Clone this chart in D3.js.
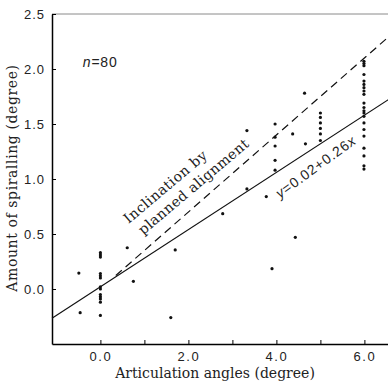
<!DOCTYPE html>
<html>
<head>
<meta charset="utf-8">
<script src="https://cdn.jsdelivr.net/npm/d3@7"></script>
<style>
  body { margin: 0; background: #fff; }
  svg { display: block; }
</style>
</head>
<body>
<div id="wrapper"></div>
<script>
// scattered points (articulation angle, spiralling)
const looseX = [-0.49, -0.46, 0.61, 0.75, 1.70, 1.60, 2.78, 3.33, 3.33, 3.77, 3.90, 4.37, 4.43, 4.64, 4.66]
const looseY = [0.145, -0.215, 0.375, 0.07, 0.355, -0.26, 0.685, 1.44, 0.91, 0.84, 0.185, 1.41, 0.47, 1.78, 1.32]

// stacked columns of points
const col0X = 0.0
const col0Y = [0.33, 0.31, 0.29, 0.14, 0.12, 0.10, 0.02, 0.0, -0.05, -0.07, -0.09, -0.12, -0.24]
const col4X = 3.97
const col4Y = [1.50, 1.38, 1.30, 1.17, 1.08]
const col5X = 5.0
const col5Y = [1.60, 1.56, 1.51, 1.46, 1.41, 1.35]
const col6X = 5.99
const col6Y = [2.07, 2.05, 2.03, 1.95, 1.89, 1.86, 1.83, 1.80, 1.77, 1.69, 1.65, 1.62, 1.60, 1.57, 1.51, 1.45, 1.39, 1.28, 1.21, 1.12, 1.09]

// regression and planned alignment lines
const fitIntercept = 0.02
const fitSlope = 0.26
const plannedSlope = 0.35
const plannedStart = 0.35

const yTicks = [0, 0.5, 1.0, 1.5, 2.0, 2.5]
const yTickLabels = ["0.0", "0.5", "1.0", "1.5", "2.0", "2.5"]
const xTicks = [0, 1, 2, 3, 4, 5, 6]
const xTickLabels = ["0.0", "", "2.0", "", "4.0", "", "6.0"]

const width = 388
const height = 387

const svg = d3.select("#wrapper")
  .append("svg")
    .attr("width", width)
    .attr("height", height)

const xScale = d3.scaleLinear()
  .domain([-1.1, 6.7])
  .range([52, 52 + 7.8 * 44])

const yScale = d3.scaleLinear()
  .domain([-0.5, 2.5])
  .range([344, 14])

const serif = "'DejaVu Serif', 'Liberation Serif', serif"
const sans = "'Liberation Sans', Arial, sans-serif"

// top frame line (faint in the scan)
svg.append("line")
  .attr("x1", xScale(-1.1)).attr("x2", width)
  .attr("y1", yScale(2.5)).attr("y2", yScale(2.5))
  .attr("stroke", "#8a8a8a")
  .attr("stroke-width", 1)

// axes
const yAxis = d3.axisLeft(yScale)
  .tickValues(yTicks)
  .tickFormat((d, i) => yTickLabels[i])
  .tickSizeInner(-4)
  .tickSizeOuter(0)
  .tickPadding(7)

const xAxis = d3.axisBottom(xScale)
  .tickValues(xTicks)
  .tickFormat((d, i) => xTickLabels[i])
  .tickSizeInner(-4)
  .tickSizeOuter(0)
  .tickPadding(8)

const gy = svg.append("g")
  .attr("transform", `translate(${xScale(-1.1)},0)`)
  .call(yAxis)
gy.select(".domain").attr("stroke-width", 1.5)
gy.selectAll(".tick line").attr("stroke-width", 1)
gy.selectAll("text")
  .attr("font-family", sans)
  .attr("font-size", 13)
  .attr("letter-spacing", 1)
  .attr("fill", "#222")

const gx = svg.append("g")
  .attr("transform", `translate(0,${yScale(-0.5)})`)
  .call(xAxis)
gx.select(".domain").attr("stroke-width", 1.5)
gx.selectAll(".tick line").attr("stroke-width", 1)
gx.selectAll("text")
  .attr("font-family", sans)
  .attr("font-size", 13)
  .attr("letter-spacing", 1.5)
  .attr("fill", "#222")

// regression line
const xEnd = 6.7
svg.append("line")
  .attr("x1", xScale(-1.1)).attr("y1", yScale(fitIntercept + fitSlope * -1.1))
  .attr("x2", xScale(xEnd)).attr("y2", yScale(fitIntercept + fitSlope * xEnd))
  .attr("stroke", "#111")
  .attr("stroke-width", 1.2)

// planned alignment line
svg.append("line")
  .attr("x1", xScale(plannedStart)).attr("y1", yScale(plannedSlope * plannedStart))
  .attr("x2", xScale(xEnd)).attr("y2", yScale(plannedSlope * xEnd))
  .attr("stroke", "#111")
  .attr("stroke-width", 1.2)
  .attr("stroke-dasharray", "8,5")

// points
const points = looseX.map((x, i) => [x, looseY[i]])
  .concat(col0Y.map(y => [col0X, y]))
  .concat(col4Y.map(y => [col4X, y]))
  .concat(col5Y.map(y => [col5X, y]))
  .concat(col6Y.map(y => [col6X, y]))

svg.append("g")
  .selectAll("circle")
  .data(points)
  .join("circle")
    .attr("cx", d => xScale(d[0]))
    .attr("cy", d => yScale(d[1]))
    .attr("r", 1.6)
    .attr("fill", "#111")

// n label
const nLabel = svg.append("text")
  .attr("x", xScale(-0.4))
  .attr("y", yScale(2.02))
  .attr("font-family", sans)
  .attr("font-size", 14)
  .attr("letter-spacing", 0.8)
  .attr("fill", "#222")
nLabel.append("tspan").attr("font-style", "italic").text("n")
nLabel.append("tspan").text("=80")

// annotation along planned line
const plannedAngle = Math.atan2(
  yScale(0) - yScale(plannedSlope), xScale(1) - xScale(0)) * 180 / Math.PI
const incl = svg.append("g")
  .attr("transform", `translate(${xScale(0.64)},${yScale(0.59)}) rotate(${-plannedAngle + 1})`)
incl.append("text")
  .attr("font-family", serif)
  .attr("font-size", 14)
  .attr("letter-spacing", 0.5)
  .attr("fill", "#222")
  .text("Inclination by")
incl.append("text")
  .attr("x", 4)
  .attr("y", 18)
  .attr("font-family", serif)
  .attr("font-size", 14)
  .attr("letter-spacing", 0.4)
  .attr("fill", "#222")
  .text("planned alignment")

// regression equation
const eq = svg.append("text")
  .attr("transform", `translate(${xScale(4.08)},${yScale(0.82)}) rotate(-36)`)
  .attr("font-family", sans)
  .attr("font-size", 14)
  .attr("letter-spacing", 0.9)
  .attr("fill", "#222")
eq.append("tspan").attr("font-style", "italic").text("y")
eq.append("tspan").text("=0.02+0.26")
eq.append("tspan").attr("font-style", "italic").text("x")

// axis titles
svg.append("text")
  .attr("x", 215)
  .attr("y", 378)
  .attr("text-anchor", "middle")
  .attr("font-family", serif)
  .attr("font-size", 14)
  .attr("fill", "#222")
  .text("Articulation angles  (degree)")

svg.append("text")
  .attr("transform", "translate(17,178) rotate(-90)")
  .attr("text-anchor", "middle")
  .attr("font-family", serif)
  .attr("font-size", 14)
  .attr("letter-spacing", 0.6)
  .attr("fill", "#222")
  .text("Amount of spiralling  (degree)")
</script>
</body>
</html>
